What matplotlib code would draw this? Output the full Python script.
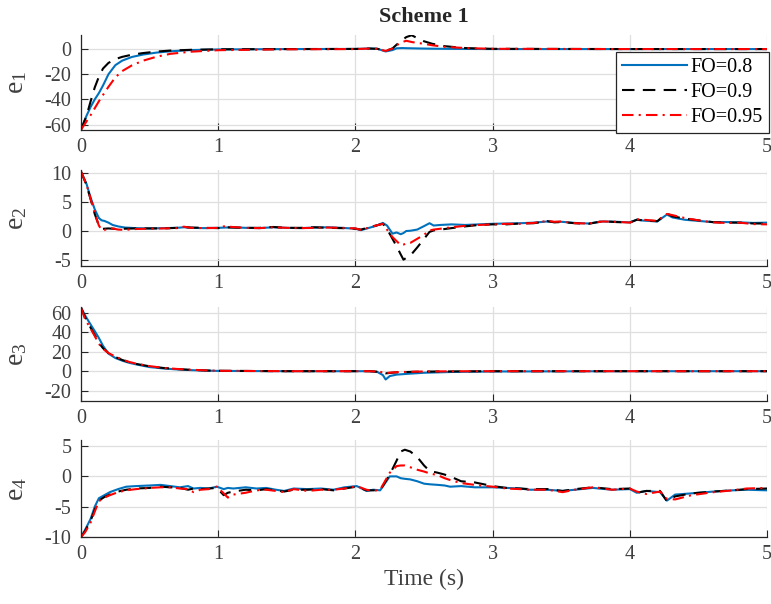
import matplotlib
matplotlib.use('Agg')
import matplotlib.pyplot as plt

plt.rcParams['font.family'] = ['Liberation Serif', 'DejaVu Serif']
plt.rcParams['mathtext.fontset'] = 'custom'
plt.rcParams['mathtext.rm'] = 'Liberation Serif'
plt.rcParams['mathtext.it'] = 'Liberation Serif:italic'
plt.rcParams['axes.unicode_minus'] = False

labels = ['FO=0.8', 'FO=0.9', 'FO=0.95']

# e1
t1 = [0, 0.04, 0.07, 0.1, 0.13, 0.16, 0.2, 0.25, 0.3, 0.37,
      0.45, 0.55, 0.65, 0.8, 1.0, 1.5, 2.0, 2.1, 2.16, 2.22,
      2.27, 2.3, 2.34, 2.37, 2.41, 2.45, 2.5, 2.56, 2.65, 2.8,
      3.0, 4.0, 5.0]
e1_08 = [-64, -53, -46, -40, -35, -29, -20, -12.8, -9.2, -6.3,
         -4.4, -2.8, -1.8, -0.8, -0.3, 0, 0.1, 0.5, 0.2, -1.9,
         -0.8, 0.6, 0.8, 0.7, 0.6, 0.5, 0.4, 0.3, 0.2, 0.1,
         0, 0, 0]
e1_09 = [-64, -53, -41.5, -30.5, -22, -15.5, -11, -8, -6.2, -4.5,
         -3.2, -2, -1.2, -0.6, -0.2, 0, 0.1, 0.4, 0.2, -1.5,
         0.5, 3.5, 7, 9.5, 11.0, 8.7, 6.2, 4.2, 2.3, 0.8,
         0.2, 0, 0]
e1_095 = [-64, -57.5, -52.5, -47, -41.5, -36.5, -30, -22.5, -17.5, -13,
          -9.3, -6.1, -3.8, -2.1, -0.9, -0.2, 0, 0.4, 0.2, -1.5,
          0.5, 3.0, 5.5, 6.6, 5.6, 4.9, 4.2, 3.0, 1.8, 0.8,
          0.2, 0, 0]

# e2
t2 = [0, 0.04, 0.07, 0.1, 0.13, 0.15, 0.17, 0.2, 0.23, 0.27,
      0.32, 0.4, 0.5, 0.6, 0.7, 0.75, 0.8, 0.9, 1.0, 1.05,
      1.1, 1.2, 1.3, 1.4, 1.5, 1.6, 1.7, 1.8, 1.9, 2.0,
      2.04, 2.1, 2.15, 2.2, 2.23, 2.27, 2.3, 2.33, 2.35, 2.37,
      2.4, 2.45, 2.5, 2.54, 2.57, 2.62, 2.7, 2.8, 2.9, 3.0,
      3.1, 3.2, 3.3, 3.4, 3.45, 3.5, 3.6, 3.7, 3.8, 3.9,
      4.0, 4.05, 4.1, 4.2, 4.27, 4.31, 4.4, 4.5, 4.6, 4.7,
      4.8, 4.9, 5.0]
e2_08 = [10.3, 8.2, 5.8, 3.8, 2.3, 1.9, 1.8, 1.5, 1.1, 0.85,
         0.65, 0.55, 0.5, 0.55, 0.6, 0.7, 0.6, 0.55, 0.6, 0.65,
         0.7, 0.6, 0.55, 0.7, 0.6, 0.55, 0.65, 0.7, 0.6, 0.45,
         0.2, 0.6, 0.95, 1.45, 1.0, -0.4, -0.2, -0.5, -0.3, 0.05,
         0.1, 0.3, 0.9, 1.4, 1.0, 1.1, 1.2, 1.1, 1.2, 1.3,
         1.35, 1.4, 1.5, 1.7, 1.6, 1.65, 1.45, 1.35, 1.7, 1.65,
         1.55, 2.0, 1.85, 1.7, 2.9, 2.4, 2.0, 1.8, 1.6, 1.6,
         1.55, 1.45, 1.5]
e2_09 = [10.3, 8.0, 5.5, 3.0, 1.0, 0.4, 0.45, 0.5, 0.45, 0.4,
         0.45, 0.5, 0.5, 0.5, 0.6, 0.75, 0.65, 0.6, 0.55, 0.7,
         0.65, 0.6, 0.6, 0.75, 0.6, 0.6, 0.7, 0.6, 0.55, 0.45,
         0.3, 0.7, 1.0, 1.3, 0.4, -1.3, -2.6, -4.0, -4.9, -4.6,
         -4.2, -2.8, -1.3, -0.1, 0.15, 0.3, 0.55, 0.85, 1.1, 1.2,
         1.2, 1.35, 1.4, 1.75, 1.55, 1.6, 1.4, 1.3, 1.75, 1.6,
         1.5, 2.0, 1.9, 1.75, 3.1, 2.6, 2.2, 1.9, 1.6, 1.5,
         1.5, 1.35, 1.35]
e2_095 = [10.3, 8.1, 5.6, 3.1, 1.0, 0.25, 0.2, 0.6, 0.5, 0.3,
          0.25, 0.4, 0.45, 0.5, 0.55, 0.8, 0.6, 0.55, 0.6, 0.9,
          0.75, 0.6, 0.55, 0.7, 0.6, 0.55, 0.6, 0.65, 0.6, 0.5,
          0.25, 0.65, 1.0, 1.3, 0.3, -1.0, -1.7, -2.4, -2.3, -2.1,
          -2.0, -1.3, -0.6, 0.15, 0.3, 0.45, 0.7, 0.95, 1.1, 1.2,
          1.3, 1.3, 1.45, 1.8, 1.65, 1.7, 1.4, 1.35, 1.7, 1.65,
          1.5, 2.1, 2.0, 1.8, 3.0, 2.8, 2.3, 1.9, 1.55, 1.45,
          1.5, 1.25, 1.2]

# e3
t3 = [0, 0.03, 0.06, 0.1, 0.13, 0.16, 0.2, 0.25, 0.3, 0.35,
      0.4, 0.5, 0.6, 0.7, 0.8, 0.9, 1.0, 1.5, 2.0, 2.1,
      2.16, 2.2, 2.22, 2.25, 2.3, 2.4, 2.5, 2.7, 3.0, 4.0,
      5.0]
e3_08 = [65, 57, 50, 41, 34, 26, 18, 13.5, 10.8, 8.6,
         7, 4.2, 2.8, 1.8, 1.1, 0.6, 0.3, 0, 0, 0,
         -0.8, -4, -8.5, -5, -3.5, -2.5, -1.6, -0.8, -0.3, 0,
         0]
e3_09 = [65, 55, 47, 37, 29, 23.5, 18.5, 14.5, 11.5, 9.2,
         7.5, 5, 3.3, 2.2, 1.4, 0.8, 0.4, 0, 0, 0,
         -0.5, -1.5, -2.2, -1.8, -1.2, -0.7, -0.4, -0.2, 0, 0,
         0]
e3_095 = [65, 53, 46, 36, 28, 23, 18.5, 15, 12, 9.5,
          7.8, 5.2, 3.4, 2.3, 1.5, 0.9, 0.4, 0, 0, 0,
          -0.4, -1.2, -2.0, -1.5, -1.0, -0.6, -0.3, -0.1, 0, 0,
          0]

# e4
t4 = [0, 0.03, 0.07, 0.1, 0.13, 0.17, 0.21, 0.27, 0.33, 0.4,
      0.5, 0.58, 0.65, 0.72, 0.78, 0.82, 0.87, 0.93, 0.99, 1.04,
      1.07, 1.11, 1.2, 1.28, 1.35, 1.42, 1.48, 1.55, 1.65, 1.75,
      1.84, 1.92, 2.01, 2.08, 2.13, 2.18, 2.25, 2.3, 2.33, 2.36,
      2.4, 2.45, 2.5, 2.54, 2.6, 2.65, 2.69, 2.77, 2.87, 3.0,
      3.1, 3.2, 3.27, 3.4, 3.51, 3.6, 3.73, 3.87, 4.0, 4.05,
      4.12, 4.22, 4.27, 4.33, 4.45, 4.61, 4.75, 4.85, 5.0]
e4_08 = [-10, -8.8, -7.0, -5.0, -3.6, -3.1, -2.6, -2.1, -1.7, -1.6,
         -1.5, -1.4, -1.6, -1.8, -1.6, -2.0, -1.9, -2.0, -1.7, -2.1,
         -1.9, -2.0, -1.8, -2.0, -1.9, -2.2, -2.4, -2.0, -2.1, -2.0,
         -2.2, -1.8, -1.6, -2.4, -2.2, -2.3, 0.0, 0.0, -0.3, -0.4,
         -0.5, -0.8, -1.2, -1.3, -1.4, -1.5, -1.7, -1.6, -1.8, -1.8,
         -1.9, -2.0, -2.2, -2.2, -2.4, -2.2, -1.9, -2.2, -2.1, -2.7,
         -2.4, -2.6, -4.0, -3.0, -2.8, -2.5, -2.3, -2.2, -2.3]
e4_09 = [-10, -9.0, -7.3, -5.5, -4.0, -3.4, -3.0, -2.5, -2.2, -2.0,
         -1.9, -1.7, -1.8, -1.9, -2.2, -2.0, -2.1, -2.0, -1.9, -3.1,
         -2.7, -2.5, -2.2, -2.3, -2.1, -2.3, -2.5, -2.2, -2.2, -2.1,
         -2.3, -2.0, -1.7, -2.3, -2.3, -2.3, 0.3, 2.6, 4.1, 4.4,
         4.1, 3.2, 1.8, 0.9, 0.6, 0.3, 0.0, -0.8, -1.0, -1.6,
         -1.9, -2.0, -2.1, -2.1, -2.4, -2.1, -1.8, -2.1, -2.0, -2.7,
         -2.4, -2.4, -4.1, -3.3, -2.8, -2.5, -2.3, -2.1, -2.0]
e4_095 = [-10, -9.2, -7.6, -5.8, -4.1, -3.5, -3.1, -2.6, -2.3, -2.1,
          -1.9, -1.8, -1.8, -2.0, -2.1, -2.6, -2.2, -2.1, -1.7, -2.8,
          -3.5, -3.0, -2.7, -2.3, -2.2, -2.4, -2.6, -2.1, -2.4, -2.2,
          -2.2, -2.0, -1.6, -2.2, -2.4, -2.2, 0.6, 1.7, 1.8, 1.8,
          1.5, 1.1, 0.8, 0.5, 0.2, -0.3, -0.6, -1.1, -1.4, -1.7,
          -2.0, -2.1, -2.2, -2.2, -2.6, -2.2, -1.8, -2.2, -2.0, -2.5,
          -2.9, -2.5, -3.7, -3.8, -3.1, -2.6, -2.3, -2.0, -1.9]

panels = [
    (t1, [e1_08, e1_09, e1_095], 'e$_{1}$', (-64.3, 11.2), [-60, -40, -20, 0]),
    (t2, [e2_08, e2_09, e2_095], 'e$_{2}$', (-6, 10.6), [-5, 0, 5, 10]),
    (t3, [e3_08, e3_09, e3_095], 'e$_{3}$', (-30.5, 66), [-20, 0, 20, 40, 60]),
    (t4, [e4_08, e4_09, e4_095], 'e$_{4}$', (-10, 6), [-10, -5, 0, 5]),
]

# axes boxes in figure fractions (left, bottom, width, height)
boxes = [
    [0.1051, 0.7848, 0.8898, 0.1573],
    [0.1051, 0.5596, 0.8898, 0.1589],
    [0.1051, 0.3361, 0.8898, 0.1561],
    [0.1051, 0.1109, 0.8898, 0.1606],
]

styles = [
    dict(color='#0072BD', linestyle='-'),
    dict(color='#000000', linestyle=(0, (6, 4))),
    dict(color='#FF0000', linestyle=(0, (5.5, 2.5, 1, 2.5))),
]

axcol = '#262626'
fig = plt.figure(figsize=(7.71, 6.04), dpi=100)
axes = []
for (t, series, ylab, ylim, yt), box in zip(panels, boxes):
    ax = fig.add_axes(box)
    for y, st, lab in zip(series, styles, labels):
        ax.plot(t, y, lw=1.5, label=lab, **st)
    ax.set_xlim(0, 5)
    ax.set_ylim(*ylim)
    ax.set_yticks(yt)
    ax.set_xticks([0, 1, 2, 3, 4, 5])
    ax.grid(True, color='#dfdfdf', lw=0.9)
    ax.set_axisbelow(True)
    for s in ['top', 'right']:
        ax.spines[s].set_visible(False)
    for s in ['left', 'bottom']:
        ax.spines[s].set_color(axcol)
        ax.spines[s].set_linewidth(0.9)
    ax.tick_params(direction='in', length=5, width=0.8, colors=axcol,
                   labelsize=14.5, labelcolor='#404040')
    ax.tick_params(axis='y', pad=7)
    ax.tick_params(axis='x', pad=6)
    ax.set_ylabel(ylab, fontsize=20, color='#404040')
    ax.yaxis.set_label_coords(-0.075, 0.5)
    axes.append(ax)

axes[0].set_title('Scheme 1', fontsize=16, fontweight='bold', color=axcol, pad=9)
axes[-1].set_xlabel('Time (s)', fontsize=17, color='#404040', labelpad=3)

leg = axes[0].legend(loc='upper right', bbox_to_anchor=(1.003, 0.821),
                     borderaxespad=0, fancybox=False, edgecolor=axcol,
                     framealpha=1, fontsize=14.5, handlelength=3.2,
                     labelspacing=0.28, handletextpad=0.2, borderpad=0.3)
leg.get_frame().set_linewidth(0.9)

fig.savefig('out.png', dpi=100, facecolor='white')
